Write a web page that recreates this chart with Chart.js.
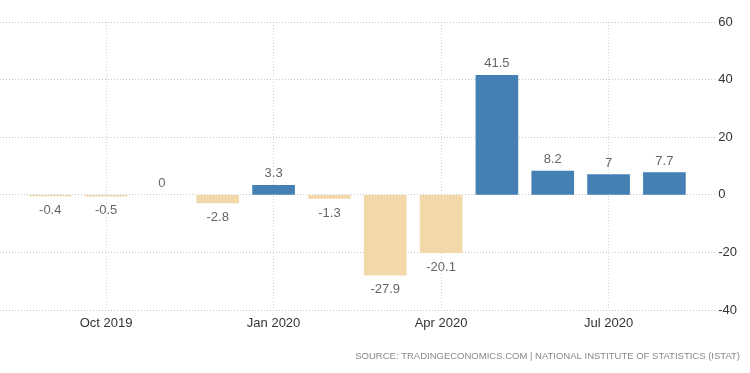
<!DOCTYPE html>
<html>
<head>
<meta charset="utf-8">
<script src="https://cdn.jsdelivr.net/npm/chart.js@4"></script>
<style>
  html, body { margin: 0; padding: 0; background: #fff; }
  #wrap { width: 750px; height: 373px; position: relative; }
</style>
</head>
<body>
<div id="wrap"><canvas id="chart"></canvas></div>
<script>
// monthly change, Sep 2019 .. Aug 2020
const months = ['Sep 2019', 'Oct 2019', 'Nov 2019', 'Dec 2019', 'Jan 2020', 'Feb 2020',
                'Mar 2020', 'Apr 2020', 'May 2020', 'Jun 2020', 'Jul 2020', 'Aug 2020'];
const values = [-0.4, -0.5, 0, -2.8, 3.3, -1.3, -27.9, -20.1, 41.5, 8.2, 7, 7.7];
const xTickIndex = [1, 4, 7, 10];
const yTicks = [60, 40, 20, 0, -20, -40];
const sourceText = 'SOURCE: TRADINGECONOMICS.COM | NATIONAL INSTITUTE OF STATISTICS (ISTAT)';

const BLUE = '#4580b4';
const TAN = '#f3d9aa';
const FONT = "'Liberation Sans', Arial, sans-serif";

// draws the value above positive bars, below negative ones
const valueLabels = {
  id: 'valueLabels',
  afterDatasetsDraw(chart) {
    const ctx = chart.ctx;
    const meta = chart.getDatasetMeta(0);
    ctx.save();
    ctx.font = '13px ' + FONT;
    ctx.fillStyle = '#666';
    ctx.textAlign = 'center';
    meta.data.forEach((bar, i) => {
      const v = values[i];
      if (v >= 0) {
        ctx.textBaseline = 'bottom';
        ctx.fillText(String(v), bar.x, bar.y - 5);
      } else {
        ctx.textBaseline = 'top';
        ctx.fillText(String(v), bar.x, bar.y + 8);
      }
    });
    ctx.restore();
  }
};

const ctx = document.getElementById('chart').getContext('2d');
new Chart(ctx, {
  type: 'bar',
  data: {
    datasets: [{
      data: values.map((v, i) => ({ x: i, y: v })),
      backgroundColor: values.map(v => v > 0 ? BLUE : (v < 0 ? TAN : 'rgba(0,0,0,0)')),
      barThickness: 42,
      borderWidth: 0
    }]
  },
  options: {
    responsive: true,
    maintainAspectRatio: false,
    animation: false,
    layout: { padding: { top: 22, right: 10, left: 0, bottom: 0 } },
    plugins: {
      legend: { display: false },
      tooltip: { enabled: false },
      title: {
        display: true,
        position: 'bottom',
        align: 'end',
        text: sourceText,
        color: '#888',
        font: { family: FONT, size: 9.5, weight: 'normal' },
        padding: { top: 13, bottom: 11 }
      }
    },
    scales: {
      x: {
        type: 'linear',
        min: -0.9,
        max: 11.91,
        offset: false,
        afterBuildTicks(axis) {
          axis.ticks = xTickIndex.map(v => ({ value: v }));
        },
        ticks: {
          autoSkip: false,
          maxRotation: 0,
          color: '#333',
          font: { family: FONT, size: 13 },
          padding: 6,
          callback: v => months[v]
        },
        grid: {
          color: '#d4d4d4',
          offset: false,
          drawTicks: false
        },
        border: { display: false, dash: [1, 2] }
      },
      y: {
        position: 'right',
        min: -40,
        max: 60,
        afterBuildTicks(axis) {
          axis.ticks = yTicks.map(v => ({ value: v }));
        },
        ticks: {
          color: '#333',
          font: { family: FONT, size: 13 },
          padding: 3
        },
        grid: {
          color: '#c8c8c8',
          drawTicks: false
        },
        border: { display: false, dash: [1, 2] }
      }
    }
  },
  plugins: [valueLabels]
});
</script>
</body>
</html>
